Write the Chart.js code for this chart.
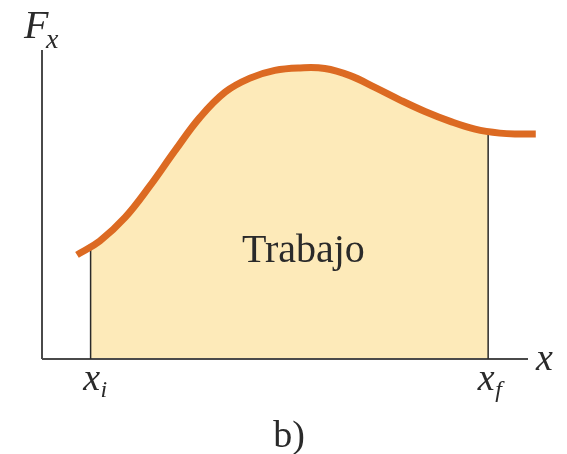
<!DOCTYPE html>
<html>
<head>
<meta charset="utf-8">
<script src="https://cdn.jsdelivr.net/npm/chart.js@4/dist/chart.umd.min.js"></script>
<style>
  html, body { margin: 0; padding: 0; background: #fff; }
  #wrap { width: 567px; height: 454px; }
</style>
</head>
<body>
<div id="wrap"><canvas id="c" width="567" height="454"></canvas></div>
<script>
// curve F(x) (x and F in arbitrary units 0..10)
const curveX = [0.72, 1.19, 1.71, 2.22, 2.74, 3.25, 3.77, 4.28, 4.79, 5.31, 5.82, 6.34, 6.85, 7.37, 7.88, 8.40, 8.91, 9.42, 9.84, 10.16];
const curveY = [3.37, 3.82, 4.58, 5.60, 6.75, 7.82, 8.64, 9.09, 9.34, 9.42, 9.40, 9.17, 8.79, 8.38, 8.01, 7.69, 7.44, 7.31, 7.28, 7.28];

// limits of the work integral and the curve height there
const xi = 1.0;
const xf = 9.18;
const Fi = 3.60;
const Ff = 7.33;
const areaLabel = 'Trabajo';
const panelLabel = 'b)';

const curve = curveX.map((x, i) => ({ x: x, y: curveY[i] }));

const orange = '#dc6a22';
const fillColor = '#fdeab9';
const axisColor = '#4a4a4a';

// fill under the curve, clipped to the band xi..xf
const bandFill = {
  id: 'bandFill',
  beforeDatasetsDraw(chart) {
    const c = chart.ctx;
    const sx = chart.scales.x, sy = chart.scales.y;
    const meta = chart.getDatasetMeta(0);
    const x0 = sx.getPixelForValue(xi), x1 = sx.getPixelForValue(xf);
    const base = sy.getPixelForValue(0);
    c.save();
    c.beginPath();
    c.rect(x0, 0, x1 - x0, base);
    c.clip();
    c.beginPath();
    meta.dataset.path(c);
    const pts = meta.data;
    c.lineTo(pts[pts.length - 1].x, base);
    c.lineTo(pts[0].x, base);
    c.closePath();
    c.fillStyle = fillColor;
    c.fill();
    c.restore();
  }
};

const labelsPlugin = {
  id: 'labels',
  afterDraw(chart) {
    const c = chart.ctx;
    const sx = chart.scales.x, sy = chart.scales.y;
    c.save();
    c.fillStyle = '#2a2a2a';
    c.textBaseline = 'alphabetic';

    // F_x
    c.textAlign = 'left';
    c.font = 'italic 40px "Liberation Serif", serif';
    c.fillText('F', 24, 38);
    c.font = 'italic 28px "Liberation Serif", serif';
    c.fillText('x', 46, 48);

    // x axis name
    c.font = 'italic 38px "Liberation Serif", serif';
    c.fillText('x', 536, 370);

    // x_i, x_f
    const pi = sx.getPixelForValue(xi);
    const pf = sx.getPixelForValue(xf);
    c.font = 'italic 38px "Liberation Serif", serif';
    c.textAlign = 'center';
    c.fillText('x', pi + 1, 390);
    c.fillText('x', pf - 2, 390);
    c.font = 'italic 24px "Liberation Serif", serif';
    c.textAlign = 'left';
    c.fillText('i', pi + 10, 397);
    c.fillText('f', pf + 7, 397);

    // area label
    c.textAlign = 'center';
    c.font = '40px "Liberation Serif", serif';
    c.fillText(areaLabel, (pi + pf) / 2 + 14, sy.getPixelForValue(3.15));

    // panel label
    c.font = '38px "Liberation Serif", serif';
    c.fillText(panelLabel, 289, 447);
    c.restore();
  }
};

new Chart(document.getElementById('c'), {
  type: 'line',
  data: {
    datasets: [
      {
        label: 'F',
        data: curve,
        borderColor: orange,
        borderWidth: 7,
        borderCapStyle: 'butt',
        tension: 0.4,
        pointRadius: 0,
        fill: false,
        clip: false,
        order: 0
      },
      {
        label: 'xi',
        data: [{ x: xi, y: 0 }, { x: xi, y: Fi }],
        borderColor: '#2a2a2a',
        borderWidth: 1.5,
        pointRadius: 0,
        fill: false,
        order: 1
      },
      {
        label: 'xf',
        data: [{ x: xf, y: 0 }, { x: xf, y: Ff }],
        borderColor: '#2a2a2a',
        borderWidth: 1.5,
        pointRadius: 0,
        fill: false,
        order: 1
      },
      {
        label: 'x axis',
        data: [{ x: 0, y: 0 }, { x: 10, y: 0 }],
        borderColor: axisColor,
        borderWidth: 2,
        pointRadius: 0,
        fill: false,
        clip: false,
        order: 2
      },
      {
        label: 'y axis',
        data: [{ x: 0, y: 0 }, { x: 0, y: 10 }],
        borderColor: axisColor,
        borderWidth: 2,
        pointRadius: 0,
        fill: false,
        clip: false,
        order: 2
      }
    ]
  },
  options: {
    responsive: false,
    animation: false,
    layout: { padding: { left: 42, top: 50, right: 39, bottom: 95 } },
    scales: {
      x: { type: 'linear', min: 0, max: 10, display: false },
      y: { type: 'linear', min: 0, max: 10, display: false }
    },
    plugins: {
      legend: { display: false },
      tooltip: { enabled: false }
    }
  },
  plugins: [bandFill, labelsPlugin]
});
</script>
</body>
</html>
